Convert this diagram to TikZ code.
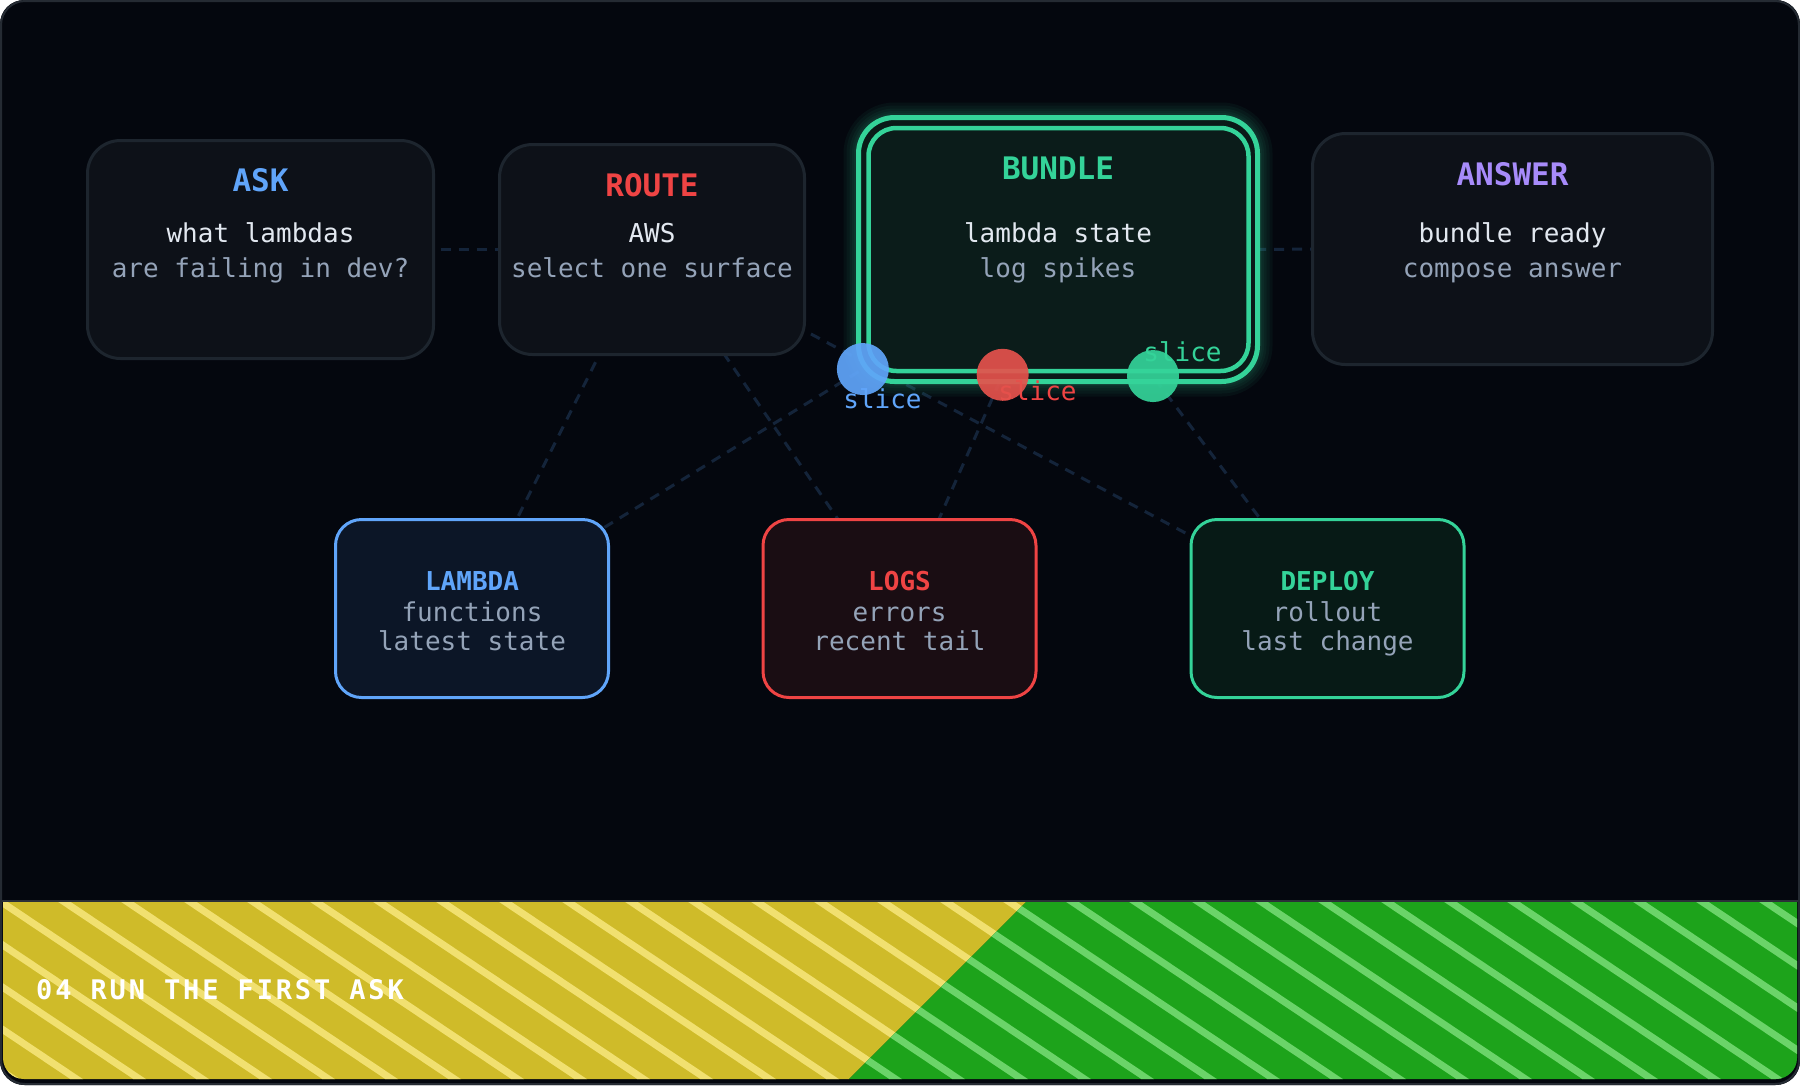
\documentclass[tikz,border=0pt]{standalone}
\usepackage{fontspec}
\setmonofont{DejaVu Sans Mono}
\newfontfamily\bandfnt[LetterSpace=10.5]{DejaVu Sans Mono}
\usetikzlibrary{calc}
\pgfdeclarelayer{back}
\pgfdeclarelayer{wires}
\pgfsetlayers{back,wires,main}
\definecolor{bgc}{HTML}{04070E}
\definecolor{framec}{HTML}{252B33}
\definecolor{boxfill}{HTML}{0D1118}
\definecolor{boxline}{HTML}{1D252E}
\definecolor{wirec}{HTML}{14243A}
\definecolor{bluec}{HTML}{60A5FA}
\definecolor{redc}{HTML}{EF4444}
\definecolor{greenc}{HTML}{34D399}
\definecolor{purplec}{HTML}{A78BFA}
\definecolor{whitec}{HTML}{E2E8F0}
\definecolor{grayc}{HTML}{94A3B8}
\definecolor{lamfill}{HTML}{0C1627}
\definecolor{logfill}{HTML}{1A0D13}
\definecolor{depfill}{HTML}{071A16}
\definecolor{bunfill}{HTML}{0A1A18}
\definecolor{bunfillin}{HTML}{0B1C1A}
\definecolor{yelc}{HTML}{CFBB29}
\definecolor{yelstripe}{HTML}{F1E070}
\definecolor{grnc}{HTML}{1DA31B}
\definecolor{grnstripe}{HTML}{6BD469}
\definecolor{bandline}{HTML}{2B3038}
\definecolor{reddot}{HTML}{E5524C}
\newcommand\bodyfnt{\ttfamily\fontsize{26}{30}\selectfont}
\newcommand\titlefnt{\ttfamily\bfseries\fontsize{31}{36}\selectfont}
\newcommand\lowtitlefnt{\ttfamily\bfseries\fontsize{26}{30}\selectfont}
\begin{document}
\begin{tikzpicture}[x=1pt,y=-1pt,
  topbox/.style={rectangle, rounded corners=33, line width=3, draw=boxline, fill=boxfill, inner sep=0},
  lowbox/.style={rectangle, rounded corners=26, line width=3, inner sep=0, minimum width=273, minimum height=178},
  wire/.style={draw=wirec, line width=3, dash pattern=on 10 off 8},
  ttl/.style={font=\titlefnt, anchor=base, inner sep=0},
  lowttl/.style={font=\lowtitlefnt, anchor=base, inner sep=0},
  txt/.style={font=\bodyfnt, anchor=base, inner sep=0},
  slicelbl/.style={font=\bodyfnt, anchor=base, inner sep=0},
  dotc/.style={circle, inner sep=0, minimum size=52, fill opacity=0.92},
  stripeY/.style={draw=yelstripe, line width=7},
  stripeG/.style={draw=grnstripe, line width=7},
  glowline/.style={draw=greenc, rounded corners=36, draw opacity=0.05}
]
\useasboundingbox (0,0) rectangle (1800,1085);
% background frame
\begin{pgfonlayer}{back}
\fill[bgc, rounded corners=24] (0,0) rectangle (1800,1085);
% bottom band
\begin{scope}
  \clip (3,901) rectangle (1797,1079);
  \clip[rounded corners=21] (3,850) rectangle (1797,1079);
  \begin{scope}
    \clip (0,895) -- (1033,895) -- (843,1085) -- (0,1085) -- cycle;
    \fill[yelc] (0,895) rectangle (1800,1085);
    \foreach \k in {-6,...,29} { \draw[stripeY] ({\k*63-30},880.9) -- ({\k*63+300},1102.1); }
  \end{scope}
  \begin{scope}
    \clip (1033,895) -- (1800,895) -- (1800,1085) -- (843,1085) -- cycle;
    \fill[grnc] (0,895) rectangle (1800,1085);
    \foreach \k in {-6,...,29} { \draw[stripeG] ({\k*63-30},880.9) -- ({\k*63+300},1102.1); }
  \end{scope}
\end{scope}
\draw[bandline, line width=1.5] (2,901) -- (1798,901);
\draw[framec, line width=2, rounded corners=24] (1,1) rectangle (1799,1084);
\end{pgfonlayer}

% bundle glow
\foreach \w in {30,24,18,13,9} {
  \draw[glowline, line width=\w] (858.5,117.5) rectangle (1257.5,381.5);
}

% boxes
\node[topbox, minimum width=346, minimum height=218] (ask) at (260.5,249.5) {};
\node[topbox, minimum width=305, minimum height=210] (route) at (652,249.5) {};
\node[topbox, minimum width=400, minimum height=231] (answer) at (1512.5,249) {};
\node[rectangle, rounded corners=36, line width=5, draw=greenc, fill=bunfill, inner sep=0,
      minimum width=399, minimum height=264] (bundle) at (1058,249.5) {};
\node[rectangle, rounded corners=28, line width=4.5, draw=greenc, fill=bunfillin, inner sep=0,
      minimum width=380, minimum height=243] (bundlein) at (1058.5,249.5) {};
\node[lowbox, draw=bluec, fill=lamfill] (lambda) at (472,608.5) {};
\node[lowbox, draw=redc, fill=logfill] (logs) at (899.5,608.5) {};
\node[lowbox, draw=greenc, fill=depfill] (deploy) at (1327.5,608.5) {};

% connectors
\begin{pgfonlayer}{wires}
\draw[wire] (ask.center) -- (route.center);
\draw[wire] (bundle.center) -- (answer.center);
\draw[wire] (route.center) -- (lambda.center);
\draw[wire] (route.center) -- (logs.center);
\draw[wire] (route.center) -- (deploy.center);
\draw[wire] (bundle.center) -- (lambda.center);
\draw[wire] (bundle.center) -- (logs.center);
\draw[wire] (bundle.center) -- (deploy.center);
\end{pgfonlayer}

% top texts
\node[ttl, text=bluec] (askT) at (260.5,191) {ASK};
\node[txt, text=whitec] (askA) at (260.5,242) {what lambdas};
\node[txt, text=grayc] (askB) at (260.5,277) {are failing in dev?};
\node[ttl, text=redc] (routeT) at (652,196) {ROUTE};
\node[txt, text=whitec] (routeA) at (652,242) {AWS};
\node[txt, text=grayc] (routeB) at (652,277) {select one surface};
\node[ttl, text=greenc] (bundleT) at (1058,179) {BUNDLE};
\node[txt, text=whitec] (bundleA) at (1058,242) {lambda state};
\node[txt, text=grayc] (bundleB) at (1058,277) {log spikes};
\node[ttl, text=purplec] (answerT) at (1512.5,185) {ANSWER};
\node[txt, text=whitec] (answerA) at (1512.5,242) {bundle ready};
\node[txt, text=grayc] (answerB) at (1512.5,277) {compose answer};

% lower texts
\node[lowttl, text=bluec] (lambdaT) at (472,590) {LAMBDA};
\node[txt, text=grayc] (lambdaA) at (472,621.5) {functions};
\node[txt, text=grayc] (lambdaB) at (472,650) {latest state};
\node[lowttl, text=redc] (logsT) at (899.5,590) {LOGS};
\node[txt, text=grayc] (logsA) at (899.5,621.5) {errors};
\node[txt, text=grayc] (logsB) at (899.5,650) {recent tail};
\node[lowttl, text=greenc] (deployT) at (1327.5,590) {DEPLOY};
\node[txt, text=grayc] (deployA) at (1327.5,621.5) {rollout};
\node[txt, text=grayc] (deployB) at (1327.5,650) {last change};

% slice labels
\node[slicelbl, text=bluec] (sliceB) at (882.5,408) {slice};
\node[slicelbl, text=redc] (sliceR) at (1037.5,400) {slice};
\node[slicelbl, text=greenc] (sliceG) at (1182.5,361.5) {slice};

% dots
\node[dotc, fill=bluec] (dotB) at ($(bundle.center)!0.333!(lambda.center)$) {};
\node[dotc, fill=reddot] (dotR) at ($(bundle.center)!0.349!(logs.center)$) {};
\node[dotc, fill=greenc] (dotG) at ($(bundle.center)!0.3525!(deploy.center)$) {};

% band caption
\node[font={\bandfnt\bfseries\fontsize{27}{32}\selectfont}, text=white, anchor=base west, inner sep=0] (caption) at (36,999) {04 RUN THE FIRST ASK};
\end{tikzpicture}
\end{document}
